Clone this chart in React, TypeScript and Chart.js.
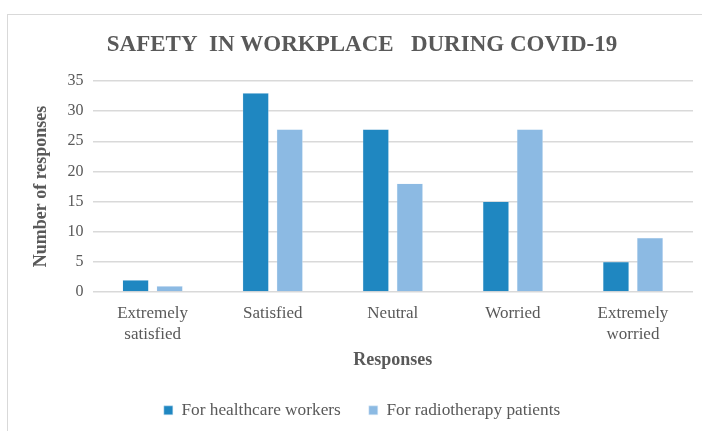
import React, { useEffect, useRef } from "react";
import { Chart, registerables } from "chart.js";

Chart.register(...registerables);

const categories: (string | string[])[] = [
  ["Extremely", "satisfied"],
  "Satisfied",
  "Neutral",
  "Worried",
  ["Extremely", "worried"],
];
const healthcareWorkers = [2, 33, 27, 15, 5];
const radiotherapyPatients = [1, 27, 18, 27, 9];
const seriesNames = ["For healthcare workers", "For radiotherapy patients"];
const chartTitle = "SAFETY  IN WORKPLACE   DURING COVID-19";
const yTitle = "Number of responses";
const xTitle = "Responses";

const SERIF = "'Liberation Serif', 'Times New Roman', serif";
const GREY = "#595959";

export default function App() {
  const ref = useRef<HTMLCanvasElement | null>(null);
  useEffect(() => {
    if (!ref.current) return;
    const titlePlugin = {
      id: "customTitle",
      afterDraw(chart: any) {
        const ctx = chart.ctx;
        ctx.save();
        ctx.font = `bold 23px ${SERIF}`;
        ctx.fillStyle = GREY;
        ctx.textAlign = "center";
        ctx.textBaseline = "alphabetic";
        ctx.fillText(chartTitle, 354, 36);
        ctx.restore();
      },
    };
    const chart = new Chart(ref.current, {
      type: "bar",
      data: {
        labels: categories,
        datasets: [
          {
            label: seriesNames[0],
            data: healthcareWorkers,
            backgroundColor: "#1F87C1",
            borderColor: "#d4e6f4",
            borderWidth: 0.5,
            categoryPercentage: 0.567,
            barPercentage: 0.77,
          },
          {
            label: seriesNames[1],
            data: radiotherapyPatients,
            backgroundColor: "#8CBAE3",
            borderColor: "#e3eef9",
            borderWidth: 0.5,
            categoryPercentage: 0.567,
            barPercentage: 0.77,
          },
        ],
      },
      options: {
        animation: false,
        responsive: false,
        maintainAspectRatio: false,
        layout: { padding: { top: 66, right: 29, left: 23, bottom: 2 } },
        plugins: {
          title: { display: false },
          tooltip: { enabled: false },
          legend: {
            position: "bottom",
            labels: {
              boxWidth: 9,
              boxHeight: 9,
              padding: 28,
              color: GREY,
              font: { family: SERIF, size: 17.3 },
            },
          },
        },
        scales: {
          x: {
            grid: { display: false },
            border: { display: false },
            ticks: {
              color: GREY,
              font: { family: SERIF, size: 17, lineHeight: 1.18 },
              padding: 4,
              maxRotation: 0,
              autoSkip: false,
            },
            title: {
              display: true,
              text: xTitle,
              color: GREY,
              font: { family: SERIF, size: 18, weight: "bold" },
              padding: { top: 1, bottom: 3 },
            },
          },
          y: {
            min: 0,
            max: 35,
            ticks: {
              stepSize: 5,
              color: GREY,
              font: { family: SERIF, size: 16 },
              padding: 9,
            },
            grid: { color: "#d9d9d9", lineWidth: 1.5, drawTicks: false },
            border: { display: false },
            title: {
              display: true,
              text: yTitle,
              color: GREY,
              font: { family: SERIF, size: 18, weight: "bold" },
              padding: { top: 0, bottom: 6 },
            },
          },
        },
      },
      plugins: [titlePlugin],
    });
    return () => chart.destroy();
  }, []);
  return (
    <div style={{ position: "fixed", left: 0, top: 0, width: 702, height: 431, overflow: "hidden", background: "#fff" }}>
      <div
        style={{
          position: "absolute",
          left: 7,
          top: 14,
          width: 714,
          height: 431,
          borderTop: "1.5px solid #d9d9d9",
          borderLeft: "1.5px solid #d9d9d9",
          background: "#fff",
        }}
      >
        <canvas ref={ref} width={714} height={416} style={{ display: "block" }} />
      </div>
    </div>
  );
}
